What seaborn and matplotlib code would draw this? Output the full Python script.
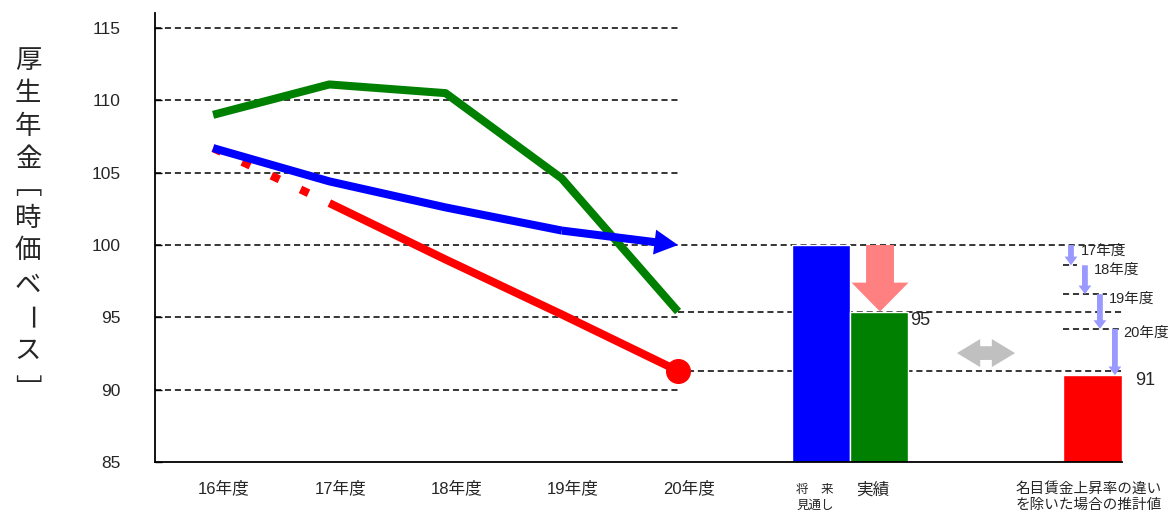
import matplotlib
matplotlib.use("Agg")
import matplotlib.pyplot as plt
import matplotlib.patches as mpatches
from matplotlib.transforms import ScaledTranslation
import seaborn as sns
import pandas as pd

# ---------------- data ----------------
years = ["16年度", "17年度", "18年度", "19年度", "20年度"]
green_actual = [109.0, 111.1, 110.5, 104.6, 95.4]
blue_forecast = [106.7, 104.4, 102.6, 101.0, 100.0]
red_estimate = [106.7, 102.9, 99.0, 95.2, 91.3]

bar_labels = ["将　来\n見通し", "実績", "名目賃金上昇率の違い\nを除いた場合の推計値"]
bar_values = [100.0, 95.4, 91.0]
bar_colors = ["#0000ff", "#008000", "#ff0000"]

step_labels = ["17年度", "18年度", "19年度", "20年度"]
step_levels = [100.0, 98.6, 96.6, 94.2, 91.0]

y_ticks = [85, 90, 95, 100, 105, 110, 115]
ylabel_text = "厚生年金﹇時価ベース﹈"

# ---------------- style ----------------
sns.set_theme(style="white")
FONT = ["Liberation Sans", "Noto Sans CJK JP", "DejaVu Sans"]
plt.rcParams["font.family"] = FONT

W, H = 1175, 512
fig = plt.figure(figsize=(W / 100, H / 100), dpi=100)
ax = fig.add_axes([155 / W, 1 - 462 / H, (1122 - 155) / W, (462 - 13) / H])

xpos = list(range(len(years)))
LW = 5.8

# grid-like dashed lines
dash = (0, (4, 2.5))
for v in [90, 95, 105, 110, 115]:
    ax.hlines(v, -0.5, 4.0, colors="black", linestyles=dash, lw=1.1, zorder=1)
ax.hlines(100, -0.5, 7.82, colors="black", linestyles=dash, lw=1.1, zorder=1)
ax.hlines(green_actual[-1], 4.0, 7.82, colors="black", linestyles=dash, lw=1.1, zorder=1)
ax.hlines(red_estimate[-1], 4.0, 7.82, colors="black", linestyles=dash, lw=1.1, zorder=1)
short_ends = [7.43, 7.69, 7.80]
for lvl, xe in zip(step_levels[1:4], short_ends):
    ax.hlines(lvl, 7.31, xe, colors="black", linestyles=dash, lw=1.1, zorder=1)

# lines
df_g = pd.DataFrame({"x": xpos, "y": green_actual})
sns.lineplot(data=df_g, x="x", y="y", ax=ax, color="#008000", lw=LW,
             estimator=None, sort=False, solid_capstyle="butt", zorder=3)

df_b = pd.DataFrame({"x": xpos[:4], "y": blue_forecast[:4]})
sns.lineplot(data=df_b, x="x", y="y", ax=ax, color="#0000ff", lw=LW,
             estimator=None, sort=False, solid_capstyle="butt", zorder=4)
arr = mpatches.FancyArrowPatch((xpos[3], blue_forecast[3]), (xpos[4], blue_forecast[4]),
                               arrowstyle="simple,tail_width=5.8,head_width=18,head_length=17",
                               mutation_scale=1, color="#0000ff", lw=0, zorder=4,
                               shrinkA=0, shrinkB=0)
ax.add_patch(arr)

df_rd = pd.DataFrame({"x": xpos[:2], "y": red_estimate[:2]})
sns.lineplot(data=df_rd, x="x", y="y", ax=ax, color="#ff0000", lw=LW,
             estimator=None, sort=False, zorder=2, linestyle=(0, (1.1, 2.9)),
             dash_capstyle="butt")
df_rs = pd.DataFrame({"x": xpos[1:], "y": red_estimate[1:]})
sns.lineplot(data=df_rs, x="x", y="y", ax=ax, color="#ff0000", lw=LW,
             estimator=None, sort=False, solid_capstyle="butt", zorder=3)
ax.plot([xpos[-1]], [red_estimate[-1]], "o", color="#ff0000", ms=17, zorder=5)

# bars
bar_x = [5.23, 5.733, 7.566]
ax.bar(bar_x, bar_values, width=0.5, color=bar_colors, zorder=2)

# pink downward arrow
ax.arrow(5.738, 100.0, 0, bar_values[1] - 100.0, width=0.24, head_width=0.49,
         head_length=2.0, length_includes_head=True, color="#ff8080", lw=0, zorder=5)

# gray double arrow
cx, cy = 6.65, 92.53
for tip in (6.40, 6.90):
    ax.arrow(cx, cy, tip - cx, 0, width=0.95, head_width=1.94, head_length=0.2,
             length_includes_head=True, color="#c0c0c0", lw=0, zorder=5)

# lavender step arrows
step_x = [7.381, 7.501, 7.630, 7.759]
for sx, top, bot in zip(step_x, step_levels[:-1], step_levels[1:]):
    ax.arrow(sx, top, 0, bot - top, width=0.05, head_width=0.11, head_length=0.6,
             length_includes_head=True, color="#9999ff", lw=0, zorder=5)

# step labels
step_lab_pos = [(7.467, 99.6), (7.579, 98.3), (7.708, 96.3), (7.828, 93.9)]
for (lx, ly), t in zip(step_lab_pos, step_labels):
    ax.text(lx, ly, t, fontsize=10.5, ha="left", va="center", family=FONT, clip_on=False)

# value labels
ax.text(5.996, 94.8, "95", fontsize=13, ha="left", va="center", family=FONT)
ax.text(7.931, 90.6, "91", fontsize=13, ha="left", va="center", family=FONT, clip_on=False)

# axes setup
ax.set_xlim(-0.5, 7.82)
ax.set_ylim(85, 116.04)
ax.set_yticks(y_ticks)
ax.set_yticklabels([str(t) for t in y_ticks])
ax.set_xticks(xpos)
ax.set_xticklabels(years)
ax.set_xlabel("")
ax.set_ylabel("")
ax.tick_params(axis="y", direction="in", length=5, width=1, color="black",
               labelsize=12.5, pad=25, left=True)
ax.tick_params(axis="x", length=0, labelsize=12, pad=13)
off = ScaledTranslation(11 / 100, 0, fig.dpi_scale_trans)
for lbl in ax.get_xticklabels():
    lbl.set_transform(lbl.get_transform() + off)
    lbl.set_family(FONT)
for lbl in ax.get_yticklabels():
    lbl.set_family(FONT)

for s in ["top", "right"]:
    ax.spines[s].set_visible(False)
for s in ["left", "bottom"]:
    ax.spines[s].set_color("black")
    ax.spines[s].set_linewidth(1.3)
ax.grid(False)

# bar category labels (figure pixel coords)
def fx(px):
    return px / W

def fy(py):
    return 1 - py / H

fig.text(fx(815), fy(498), bar_labels[0], fontsize=9, ha="center", va="center",
         family=FONT, linespacing=1.5)
fig.text(fx(873), fy(490), bar_labels[1], fontsize=12, ha="center", va="center", family=FONT)
fig.text(fx(1089), fy(497), bar_labels[2], fontsize=10.5, ha="center", va="center",
         family=FONT, linespacing=1.25)

# vertical y label
centers = [60, 93, 127, 160, 187, 218, 250, 285, 318, 350, 390]
for ch, cyy in zip(ylabel_text, centers):
    rot = -90 if ch == "ー" else 0
    fig.text(fx(28), fy(cyy), ch, fontsize=19, ha="center", va="center",
             rotation=rot, rotation_mode="anchor",
             family=["Noto Sans CJK JP", "DejaVu Sans"])

fig.savefig("out.png", dpi=100)
